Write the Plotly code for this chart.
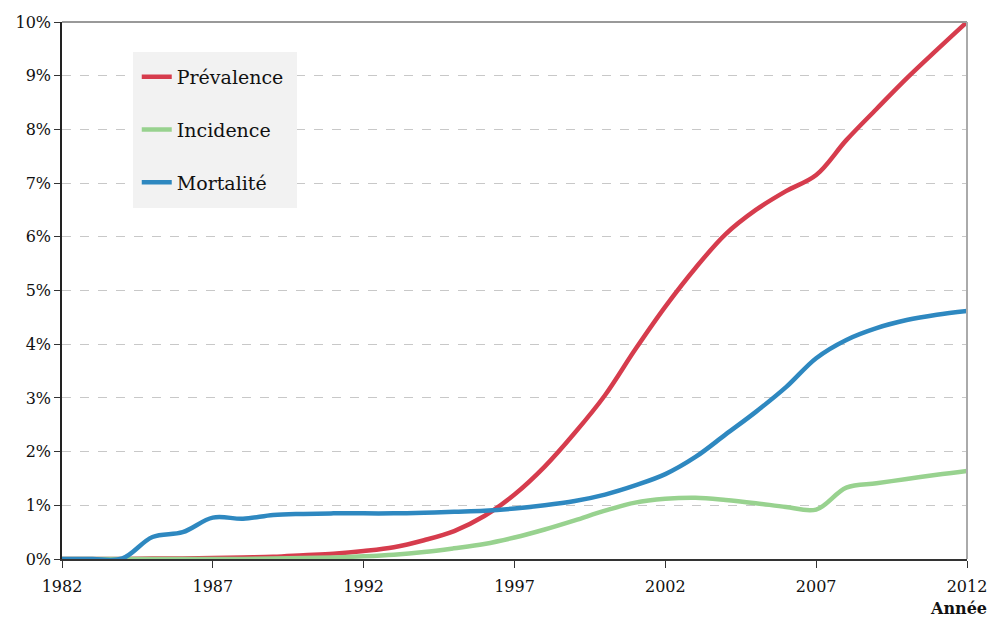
import plotly.graph_objects as go

years = list(range(1982, 2013))
prevalence = [0.0, 0.0, 0.0, 0.01, 0.01, 0.02, 0.03, 0.04, 0.07, 0.10, 0.15, 0.22, 0.35, 0.52, 0.80,
              1.20, 1.72, 2.35, 3.05, 3.90, 4.70, 5.42, 6.05, 6.50, 6.85, 7.15, 7.80, 8.38, 8.95, 9.48, 10.0]
incidence = [0.0, 0.0, 0.0, 0.0, 0.0, 0.0, 0.0, 0.01, 0.02, 0.03, 0.05, 0.08, 0.13, 0.20, 0.28,
             0.40, 0.55, 0.72, 0.90, 1.05, 1.12, 1.14, 1.10, 1.04, 0.97, 0.92, 1.33, 1.41, 1.49, 1.57, 1.64]
mortality = [0.0, 0.0, 0.01, 0.41, 0.50, 0.77, 0.75, 0.82, 0.84, 0.85, 0.85, 0.85, 0.86, 0.88, 0.90,
             0.94, 1.00, 1.08, 1.20, 1.37, 1.58, 1.90, 2.32, 2.74, 3.20, 3.74, 4.08, 4.30, 4.45, 4.55, 4.62]
series_names = ["Prévalence", "Incidence", "Mortalité"]
series_colors = ["#d63c4d", "#98d28f", "#2e88c0"]
y_ticks = [i / 100 for i in range(0, 11)]
x_ticks = [1982, 1987, 1992, 1997, 2002, 2007, 2012]

font_family = "DejaVu Serif, Georgia, serif"

fig = go.Figure()
for name, vals, col in zip(series_names, [prevalence, incidence, mortality], series_colors):
    fig.add_trace(go.Scatter(
        x=years, y=[v / 100 for v in vals], name=name, mode="lines",
        line=dict(color=col, width=4.5, shape="spline", smoothing=1.0),
        legendgroup=name, cliponaxis=True,
    ))

fig.update_layout(
    width=990, height=617,
    margin=dict(l=62, r=23, t=22, b=58, autoexpand=False),
    paper_bgcolor="white", plot_bgcolor="white",
    font=dict(family=font_family, size=16, color="#111"),
    showlegend=True,
    legend=dict(
        x=0.0826, y=0.933, xanchor="left", yanchor="top",
        bgcolor="rgba(0,0,0,0)", font=dict(size=19, family=font_family, color="#111"),
        tracegroupgap=25, itemwidth=30,
    ),
    xaxis=dict(
        range=[1982, 2012], tickvals=x_ticks, ticktext=[str(v) for v in x_ticks],
        showgrid=False, zeroline=False, showline=True, linecolor="#333", linewidth=1.5,
        ticks="outside", ticklen=7, tickcolor="#333", tickwidth=1, automargin=False,
        tickfont=dict(size=16, family=font_family), ticklabelstandoff=5,
    ),
    yaxis=dict(
        range=[0, 0.1], tickvals=y_ticks, tickformat=".0%", automargin=False,
        showgrid=True, gridcolor="#c8c8c8", griddash="dash", gridwidth=1,
        zeroline=False, showline=True, linecolor="#222", linewidth=1.5,
        ticks="outside", ticklen=6, tickcolor="#333",
        tickfont=dict(size=16, family=font_family),
    ),
    shapes=[
        dict(type="rect", xref="paper", yref="paper", x0=(133 - 62) / 905, x1=(297 - 62) / 905,
             y0=(559 - 208) / 537, y1=(559 - 52) / 537, fillcolor="#f2f2f2", line=dict(width=0),
             layer="above"),
        dict(type="line", xref="paper", yref="paper", x0=0, x1=1, y0=1, y1=1,
             line=dict(color="#999", width=2), layer="above"),
        dict(type="line", xref="paper", yref="paper", x0=1, x1=1, y0=0, y1=1,
             line=dict(color="#aaa", width=2), layer="above"),
    ],
    annotations=[
        dict(text="<b>Année</b>", xref="paper", yref="paper", x=1.024, y=-0.071,
             xanchor="right", yanchor="top", showarrow=False,
             font=dict(size=16, family=font_family, color="#111")),
    ],
)

fig.write_html("out.html", config={"displayModeBar": False},
               post_script="document.body.style.margin='0px';")
